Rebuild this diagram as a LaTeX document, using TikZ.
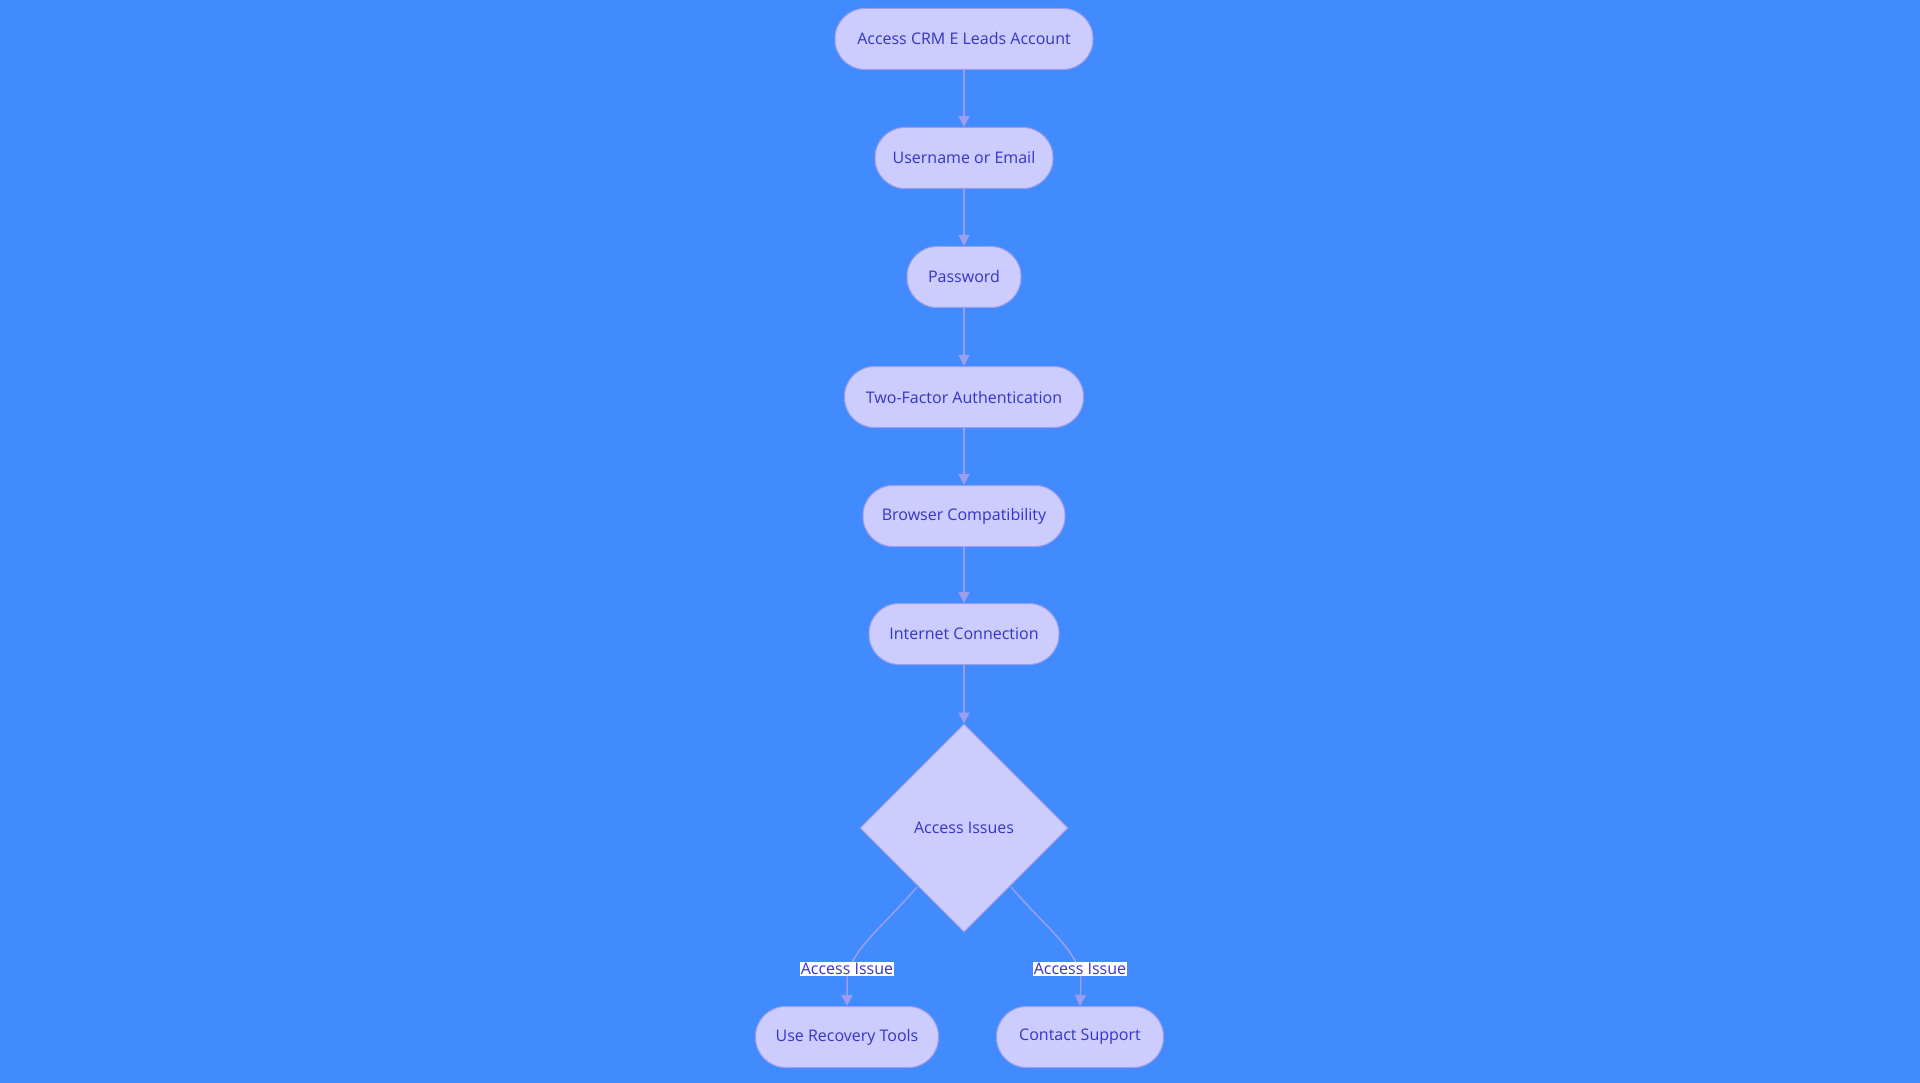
\documentclass[tikz,border=0pt]{standalone}
\usepackage{fontspec}
\setmainfont{Open Sans}
\usetikzlibrary{shapes.geometric,arrows.meta}
\definecolor{bg}{HTML}{418BFF}
\definecolor{nfill}{HTML}{CCCCFF}
\definecolor{nline}{HTML}{9D9DEE}
\definecolor{ntext}{HTML}{3434C8}
\begin{document}
\begin{tikzpicture}[x=1pt,y=-1pt,
  box/.style={rounded rectangle, draw=nline, fill=nfill, line width=1pt, text=ntext, minimum height=61pt, font=\fontsize{16}{18}\selectfont, inner xsep=0pt},
  dia/.style={diamond, draw=nline, fill=nfill, line width=1pt, text=ntext, minimum width=208pt, minimum height=208pt, font=\fontsize{16}{18}\selectfont, inner sep=0pt, aspect=1},
  lab/.style={fill=white, text=ntext, inner sep=1pt, font=\fontsize{16}{18}\selectfont},
  arr/.style={draw=nline, line width=1.5pt, -{Triangle[length=11pt,width=11pt]}}]
\fill[bg] (0,0) rectangle (1920,1083);
\useasboundingbox (0,0) rectangle (1920,1083);
\tikzset{rounded rectangle/.style={rounded corners=30pt, rectangle}}
\node[box, minimum width=258pt] (a) at (964,39) {Access CRM E Leads Account};
\node[box, minimum width=178pt] (b) at (964,158) {Username or Email};
\node[box, minimum width=114pt] (c) at (964,277) {Password};
\node[box, minimum width=239pt] (d) at (964,397) {Two-Factor Authentication};
\node[box, minimum width=202pt] (e) at (964,516) {Browser Compatibility};
\node[box, minimum width=190pt] (f) at (964,634) {Internet Connection};
\node[dia] (g) at (964,828) {Access Issues};
\node[box, minimum width=183pt] (h) at (847,1037) {Use Recovery Tools};
\node[box, minimum width=167pt] (i) at (1080,1037) {Contact Support};
\draw[arr] (a) -- (b);
\draw[arr] (b) -- (c);
\draw[arr] (c) -- (d);
\draw[arr] (d) -- (e);
\draw[arr] (e) -- (f);
\draw[arr] (f) -- (g.north);
\coordinate (gl) at (917,887);
\coordinate (gr) at (1011,887);
\draw[arr] (gl) .. controls (880,930) and (850,950) .. (847,980) -- (h.north);
\draw[arr] (gr) .. controls (1048,930) and (1078,950) .. (1081,980) -- (i.north);
\node[lab] (l1) at (847,969) {Access Issue};
\node[lab] (l2) at (1080,969) {Access Issue};
\end{tikzpicture}
\end{document}
